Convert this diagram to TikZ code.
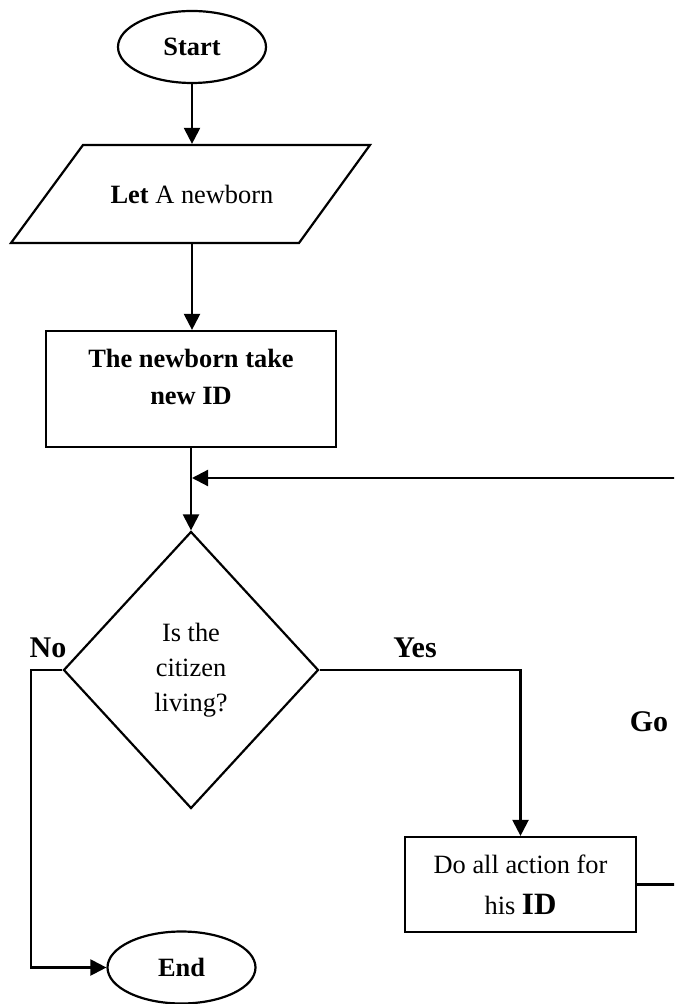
\documentclass[tikz,border=0pt]{standalone}
\usepackage{fontspec}
\setmainfont{Liberation Serif}
\usetikzlibrary{arrows.meta,shapes.geometric}

\begin{document}
\begin{tikzpicture}[
  x=0.5pt, y=-0.5pt,
  line width=1.1pt,
  every node/.style={inner sep=0pt, font=\fontsize{13.2}{17.5}\selectfont},
  terminal/.style={draw, ellipse, minimum width=74pt, minimum height=36pt},
  procbox/.style={draw, rectangle},
  decision/.style={draw, diamond, minimum width=127.5pt, minimum height=138.5pt, align=center},
  branchlabel/.style={font=\fontsize{15}{18}\selectfont\bfseries},
  flow/.style={-{Triangle[length=8pt,width=8pt]}}
]
  % page frame; the loop-back line leaves the page on the right
  \path[use as bounding box, clip] (0,0) rectangle (674,1004);

  % start terminal
  \node[terminal] (start) at (192,47) {\textbf{Start}};

  % input parallelogram
  \draw (83,145) -- (370,145) -- (299,243) -- (11,243) -- cycle;
  \node[minimum height=49pt] (para) at (192,194) {\textbf{Let} A newborn};

  % identity process box
  \node[procbox, minimum width=145pt, minimum height=58pt] (idbox) at (191,389) {};
  \node[align=center, font=\fontsize{13.2}{18.5}\selectfont\bfseries] (idtext) at (191,376.5)
    {The newborn take\\new ID};

  % decision
  \node[decision] (ask) at (191,670)
    {\fontsize{13.2}{17.3}\selectfont Is the\\citizen\\living?};

  % action box
  \node[procbox, minimum width=115.5pt, minimum height=47.5pt, align=center,
        font=\fontsize{13.2}{20.5}\selectfont] (dobox) at (520.5,884.5)
    {Do all action for\\his {\fontsize{15.5}{20.5}\selectfont\bfseries ID}};

  % end terminal
  \node[terminal] (end) at (181.5,967.5) {\textbf{End}};

  % branch labels
  \node[branchlabel] (nolabel) at (48,648) {No};
  \node[branchlabel] (yeslabel) at (415,648) {Yes};
  \node[branchlabel] (golabel) at (649,722) {Go};

  % helper points
  \coordinate (merge) at (192,478);
  \coordinate (nocorner) at (31,670);
  \coordinate (loophigh) at (700,478);

  % main flow
  \draw[flow] (start.south) -- (para.north);
  \draw[flow] (para.south) -- (para.south |- idbox.north);
  \draw[flow] (idbox.south) -- (ask.north);

  % yes branch
  \draw[flow] (ask.east) -| (dobox.north);

  % no branch
  \draw[flow] (ask.west) -- (nocorner) |- (end.west);

  % loop back into the trunk
  \draw[flow] (dobox.east) -| (loophigh) -- (merge);
\end{tikzpicture}
\end{document}
